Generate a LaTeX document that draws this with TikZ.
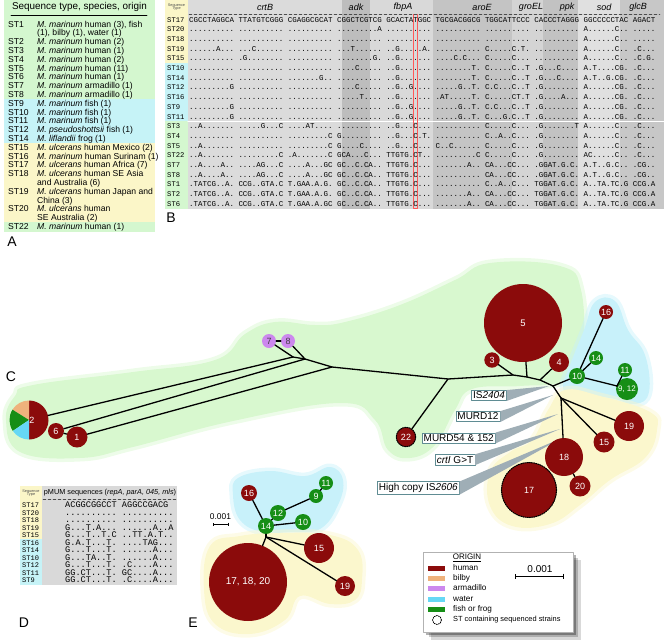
\documentclass[tikz,border=0pt]{standalone}
\usepackage{fontspec}
\setmainfont{Liberation Sans}
\setmonofont{Liberation Mono}
\usetikzlibrary{calc,arrows.meta}
\definecolor{human}{HTML}{8B0B0B}
\definecolor{bilby}{HTML}{EFB27C}
\definecolor{armadillo}{HTML}{CC88EE}
\definecolor{water}{HTML}{66D8F5}
\definecolor{fishfrog}{HTML}{168E16}
\definecolor{tabgreen}{HTML}{D4F7CF}
\definecolor{tabcyan}{HTML}{C6F3F7}
\definecolor{tabyellow}{HTML}{FBF6C8}
\definecolor{blobgreen}{HTML}{D8F8CF}
\definecolor{blobcyan}{HTML}{C8F1FA}
\definecolor{blobyellow}{HTML}{FBF7CD}
\definecolor{wedge}{HTML}{9FAEB6}
\definecolor{boxline}{HTML}{5F8C93}
\newcommand{\fsz}[1]{\fontsize{#1}{#1}\selectfont}

\begin{document}
\begin{tikzpicture}[x=1pt, y=-1pt, line join=round, line cap=round,
  txa/.style={anchor=base west, inner sep=0pt, font=\fsz{8.6}},
  stb/.style={anchor=base west, inner sep=0pt, font=\ttfamily\fsz{7.2}},
  seqb/.style={anchor=base west, inner sep=0pt, font=\ttfamily\fsz{7.47}},
  std/.style={anchor=base west, inner sep=0pt, font=\ttfamily\fsz{7}},
  seqd/.style={anchor=base west, inner sep=0pt, font=\ttfamily\fsz{8.6}},
  gene/.style={inner sep=0pt, font=\itshape\fsz{9}},
  panel/.style={inner sep=0pt, font=\fsz{14}},
  st/.style={circle, inner sep=0pt, text=white, font=\fsz{9}},
  hum/.style={st, fill=human},
  fsh/.style={st, fill=fishfrog},
  arm/.style={st, fill=armadillo, text=black!75},
  ring/.style={draw=black, line width=1.1pt, dash pattern=on 1.1pt off 1.1pt},
  edge/.style={line width=1.3pt},
  callout/.style={draw=boxline, fill=white, line width=0.6pt, inner sep=1.6pt, font=\fsz{10}},
  blob/.style={line width=7pt, draw opacity=0.45},
  leg/.style={anchor=west, inner sep=0pt, font=\fsz{8.2}}]
\useasboundingbox (0,0) rectangle (664,643);

\fill[tabgreen] (4,0) rectangle (155,99.1);
\fill[tabcyan] (4,99.1) rectangle (155,143.1);
\fill[tabyellow] (4,143.1) rectangle (155,222.3);
\fill[tabgreen] (4,222.3) rectangle (155,232);
\node[font=\fsz{9.9}, inner sep=0pt] (ahead) at (79.5,7) {Sequence type, species, origin};
\draw[line width=0.7pt] (11,15) -- (147,15);
\node[txa] (a1) at (8,27.0) {ST1};
\node[txa] (a1t) at (37,27.0) {\textit{M. marinum} human (3), fish};
\node[txa] (a1u) at (37,35.8) {(1), bilby (1), water (1)};
\node[txa] (a2) at (8,44.6) {ST2};
\node[txa] (a2t) at (37,44.6) {\textit{M. marinum} human (2)};
\node[txa] (a3) at (8,53.4) {ST3};
\node[txa] (a3t) at (37,53.4) {\textit{M. marinum} human (1)};
\node[txa] (a4) at (8,62.2) {ST4};
\node[txa] (a4t) at (37,62.2) {\textit{M. marinum} human (2)};
\node[txa] (a5) at (8,71.0) {ST5};
\node[txa] (a5t) at (37,71.0) {\textit{M. marinum} human (11)};
\node[txa] (a6) at (8,79.8) {ST6};
\node[txa] (a6t) at (37,79.8) {\textit{M. marinum} human (1)};
\node[txa] (a7) at (8,88.6) {ST7};
\node[txa] (a7t) at (37,88.6) {\textit{M. marinum} armadillo (1)};
\node[txa] (a8) at (8,97.4) {ST8};
\node[txa] (a8t) at (37,97.4) {\textit{M. marinum} armadillo (1)};
\node[txa] (a9) at (8,106.2) {ST9};
\node[txa] (a9t) at (37,106.2) {\textit{M. marinum} fish (1)};
\node[txa] (a10) at (8,115.0) {ST10};
\node[txa] (a10t) at (37,115.0) {\textit{M. marinum} fish (1)};
\node[txa] (a11) at (8,123.8) {ST11};
\node[txa] (a11t) at (37,123.8) {\textit{M. marinum} fish (1)};
\node[txa] (a12) at (8,132.6) {ST12};
\node[txa] (a12t) at (37,132.6) {\textit{M. pseudoshottsii} fish (1)};
\node[txa] (a14) at (8,141.4) {ST14};
\node[txa] (a14t) at (37,141.4) {\textit{M. liflandii} frog (1)};
\node[txa] (a15) at (8,150.2) {ST15};
\node[txa] (a15t) at (37,150.2) {\textit{M. ulcerans} human Mexico (2)};
\node[txa] (a16) at (8,159.0) {ST16};
\node[txa] (a16t) at (37,159.0) {\textit{M. marinum} human Surinam (1)};
\node[txa] (a17) at (8,167.8) {ST17};
\node[txa] (a17t) at (37,167.8) {\textit{M. ulcerans} human Africa (7)};
\node[txa] (a18) at (8,176.6) {ST18};
\node[txa] (a18t) at (37,176.6) {\textit{M. ulcerans} human SE Asia};
\node[txa] (a18u) at (37,185.4) {and Australia (6)};
\node[txa] (a19) at (8,194.2) {ST19};
\node[txa] (a19t) at (37,194.2) {\textit{M. ulcerans} human Japan and};
\node[txa] (a19u) at (37,203.0) {China (3)};
\node[txa] (a20) at (8,211.8) {ST20};
\node[txa] (a20t) at (37,211.8) {\textit{M. ulcerans} human};
\node[txa] (a20u) at (37,220.6) {SE Australia (2)};
\node[txa] (a22) at (8,229.4) {ST22};
\node[txa] (a22t) at (37,229.4) {\textit{M. marinum} human (1)};
\node[panel] (pa) at (12,242) {A};

\fill[tabyellow] (165,0) rectangle (188,63.2);
\fill[tabcyan] (165,63.2) rectangle (188,121.3);
\fill[tabgreen] (165,121.3) rectangle (188,208.6);
\fill[black!14] (188,0) rectangle (342,208.6);
\fill[black!26] (342,0) rectangle (370,208.6);
\fill[black!15] (370,0) rectangle (433,208.6);
\fill[black!23] (433,0) rectangle (512,208.6);
\fill[black!17] (512,0) rectangle (543,208.6);
\fill[black!24] (543,0) rectangle (578,208.6);
\fill[black!12] (578,0) rectangle (620,208.6);
\fill[black!22] (620,0) rectangle (664,208.6);
\draw[white, line width=1.2pt] (188,121.3) -- (664,121.3);
\draw[red!65, line width=0.4pt] (413,14) rectangle (417.5,208.6);
\draw[black!70, line width=0.4pt, densely dashed] (189,14.5) -- (660,14.5);
\node[font=\fsz{3.8}, align=center, inner sep=0pt, text=black!70] (bhead) at (176.5,7) {Sequence\\Type};
\node[gene] (gcrtb) at (265,7) {crtB};
\node[gene] (gadk) at (356,7) {adk};
\node[gene] (gfbpa) at (403,7) {fbpA};
\node[gene] (garoe) at (482,7) {aroE};
\node[gene] (ggroel) at (531,7) {groEL};
\node[gene] (gppk) at (567,7) {ppk};
\node[gene] (gsod) at (604,7) {sod};
\node[gene] (gglcb) at (638,7) {glcB};
\node[stb] (b17) at (167,22.0) {ST17};
\node[seqb] (s17) at (189,22.0) {CGCCTAGGCA TTATGTCGGG CGAGGCGCAT CGGCTCGTCG GCACTATGGC TGCGACGGCG TGGCATTCCC CACCCTAGGG GGCCCCCTAC AGACT};
\node[stb] (b20) at (167,31.7) {ST20};
\node[seqb] (s20) at (189,31.7) {.......... .......... .......... .........A .......... .......... .......... .......... A......C.. .....};
\node[stb] (b18) at (167,41.4) {ST18};
\node[seqb] (s18) at (189,41.4) {.......... .......... .......... .......... .......... .......... .......... .......... A......C.. .....};
\node[stb] (b19) at (167,51.1) {ST19};
\node[seqb] (s19) at (189,51.1) {......A... ...C...... .......... ...T...... ..G.....A. .......... C.....C.T. .......... A......C.. .C...};
\node[stb] (b15) at (167,60.8) {ST15};
\node[seqb] (s15) at (189,60.8) {.......... .G........ .......... ........G. ..G....... ....C.C... C.....C... .......... A......C.. .C.G.};
\node[stb] (b10) at (167,70.5) {ST10};
\node[seqb] (s10) at (189,70.5) {.......... .......... .......... ....C..... ..G....... ........T. C.....C..T .G...C.... A.T....CG. .C...};
\node[stb] (b14) at (167,80.2) {ST14};
\node[seqb] (s14) at (189,80.2) {.......... .......... .......G.. .......... ..G....... ........T. C.....C..T .G...C.... A.T..G.CG. .C...};
\node[stb] (b12) at (167,89.9) {ST12};
\node[seqb] (s12) at (189,89.9) {.........G .......... .......... ....C..... ..G..G.... .....G..T. C.C...C..T .G........ A......CG. .C...};
\node[stb] (b16) at (167,99.6) {ST16};
\node[seqb] (s16) at (189,99.6) {.......... .......... .......... .....T.... ..G....... .AT.....T. C.....CT.T .G....A... A......CG. .C...};
\node[stb] (b9) at (167,109.3) {ST9};
\node[seqb] (s9) at (189,109.3) {.........G .......... .......... .......... ..G..G.... .....G..T. C.C...C..T .G........ A......CG. .C...};
\node[stb] (b11) at (167,119.0) {ST11};
\node[seqb] (s11) at (189,119.0) {.........G .......... .......... .......... ..G..G.... .....G..T. C...G.C..T .G........ A......CG. .C...};
\node[stb] (b3) at (167,128.7) {ST3};
\node[seqb] (s3) at (189,128.7) {..A....... .....G...C ....AT.... .......... ..G...C... .......... C.....C... .G.......T A......C.. .C...};
\node[stb] (b4) at (167,138.4) {ST4};
\node[seqb] (s4) at (189,138.4) {.......... .......... .........C G......... ..G...C.T. .......... C..A..C... .G........ A......C.. .C...};
\node[stb] (b5) at (167,148.1) {ST5};
\node[seqb] (s5) at (189,148.1) {..A....... .......... .........C G....C.... ..G...C... C..C...... C.....C... .G........ A......C.. .C...};
\node[stb] (b22) at (167,157.8) {ST22};
\node[seqb] (s22) at (189,157.8) {..A....... .........C .A.......C GCA...C... TTGTG.CT.. .........C C.....C... .G........ AC.....C.. .C...};
\node[stb] (b7) at (167,167.5) {ST7};
\node[seqb] (s7) at (189,167.5) {..A....A.. ....AG...C ....A...GC GC..C.CA.. TTGTG.C... .......A.. CA...CC... .GGAT.G.C. A.T..G.C.. .CG..};
\node[stb] (b8) at (167,177.2) {ST8};
\node[seqb] (s8) at (189,177.2) {..A....A.. ....AG...C ....A...GC GC..C.CA.. TTGTG.C... .......... CA...CC... .GGAT.G.C. A.T..G.C.. .CG..};
\node[stb] (b1) at (167,186.9) {ST1};
\node[seqb] (s1) at (189,186.9) {.TATCG..A. CCG..GTA.C T.GAA.A.G. GC..C.CA.. TTGTG.C... .......... C..A..C... TGGAT.G.C. A..TA.TC.G CCG.A};
\node[stb] (b2) at (167,196.6) {ST2};
\node[seqb] (s2) at (189,196.6) {.TATCG..A. CCG..GTA.C T.GAA.A.G. GC..C.CA.. TTGTG.C... .......A.. CA...CC... TGGAT.G.C. A..TA.TC.G CCG.A};
\node[stb] (b6) at (167,206.3) {ST6};
\node[seqb] (s6) at (189,206.3) {.TATCG..A. CCG..GTA.C T.GAA.A.GC GC..C.CA.. TTGTG.C... .......A.. CA...CC... TGGAT.G.C. A..TA.TC.G CCG.A};
\node[panel] (pb) at (171,218) {B};

\path[fill=blobgreen, draw=blobgreen, blob] plot[smooth cycle, tension=0.7] coordinates {(6,420) (15,396) (33,385) (133,372) (215,360) (245,334) (275,322) (315,325) (345,322) (400,305) (455,280) (490,263) (560,266) (581,290) (582,355) (565,381) (520,386) (472,389) (455,410) (435,445) (410,458) (388,450) (375,420) (340,403) (233,421) (133,447) (80,458) (20,452)};
\path[fill=blobcyan, draw=blobcyan, blob] plot[smooth cycle, tension=0.7] coordinates {(584,330) (595,302) (615,301) (628,330) (645,355) (649,392) (635,404) (610,398) (575,395) (563,388) (570,365)};
\path[fill=blobyellow, draw=blobyellow, blob] plot[smooth cycle, tension=0.7] coordinates {(565,390) (600,396) (650,412) (657,430) (645,458) (610,480) (580,505) (550,524) (512,526) (490,506) (490,472) (510,452) (532,440) (548,410)};
\node[panel] (pc) at (11,377) {C};

\node[callout] (cis4) at (489,395.5) {IS\textit{2404}};
\node[callout] (cm12) at (478,416.5) {MURD12};
\node[callout] (cm54) at (458.7,438) {MURD54 \& 152};
\node[callout] (ccrt) at (455,459.7) {\textit{crtI} G>T};
\node[callout] (chi) at (418.3,488) {High copy IS\textit{2606}};
\coordinate (tis4) at (549,386);
\coordinate (tm12) at (553,395);
\coordinate (tm54) at (558,414);
\coordinate (tcrt) at (560,429);
\coordinate (thi) at (562,438);
\fill[wedge] (cis4.north east) -- (tis4) -- (cis4.south east) -- cycle;
\fill[wedge] (cm12.north east) -- (tm12) -- (cm12.south east) -- cycle;
\fill[wedge] (cm54.north east) -- (tm54) -- (cm54.south east) -- cycle;
\fill[wedge] (ccrt.north east) -- (tcrt) -- (ccrt.south east) -- cycle;
\fill[wedge] (chi.north east) -- (thi) -- (chi.south east) -- cycle;

\fill[human] (29,420) -- ++(90:19.5pt) arc[start angle=90, end angle=-90, radius=19.5pt] -- cycle;
\fill[bilby] (29,420) -- ++(90:19.5pt) arc[start angle=90, end angle=148, radius=19.5pt] -- cycle;
\fill[fishfrog] (29,420) -- ++(148:19.5pt) arc[start angle=148, end angle=214, radius=19.5pt] -- cycle;
\fill[water] (29,420) -- ++(214:19.5pt) arc[start angle=214, end angle=270, radius=19.5pt] -- cycle;
\node[st, minimum size=39pt] (n2) at (29,420) {\hspace{6pt}2};
\node[hum, minimum size=16pt] (n6) at (56,431) {6};
\node[hum, minimum size=21pt] (n1) at (77,437) {1};
\node[arm, minimum size=14pt] (n7) at (269,341) {7};
\node[arm, minimum size=14pt] (n8) at (288,341) {8};
\node[hum, ring, minimum size=19.4pt] (n22) at (406,437) {22};
\node[hum, minimum size=15.4pt] (n3) at (492,360) {3};
\node[hum, minimum size=78pt, font=\fsz{9.5}] (n5) at (523,323) {5};
\node[hum, minimum size=20pt] (n4) at (559,362) {4};
\node[fsh, minimum size=16pt] (n10) at (577,376) {10};
\node[hum, minimum size=14pt] (n16) at (606,312) {16};
\node[fsh, minimum size=14pt] (n14) at (596,358) {14};
\node[fsh, minimum size=14pt] (n11) at (625,370) {11};
\node[fsh, minimum size=22pt, font=\fsz{8}] (n912) at (627,389) {9, 12};
\node[hum, minimum size=38pt] (n18) at (564,457) {18};
\node[hum, minimum size=21pt] (n15) at (604,442) {15};
\node[hum, minimum size=30pt] (n19) at (629,426) {19};
\node[hum, minimum size=21pt] (n20) at (580,486) {20};
\node[hum, ring, minimum size=55pt] (n17) at (529,490) {17};
\coordinate (j1) at (293,357);
\coordinate (j2) at (305,359);
\coordinate (j3) at (332,367);
\coordinate (j4) at (448,379);
\coordinate (j5) at (513,375);
\coordinate (j6) at (527,377);
\coordinate (j7) at (540,380);
\coordinate (j8) at (553,386);
\coordinate (j9) at (617,386);
\coordinate (j10) at (561,398);
\draw[edge] (n2) -- (j1);
\draw[edge] (n6) -- (j2);
\draw[edge] (n1) -- (j3);
\draw[edge] (n6) -- (n1);
\draw[edge] (n7) -- (n8);
\draw[edge] (n7) -- (j1);
\draw[edge] (n8) -- (j2);
\draw[edge] (j1) -- (j2) -- (j3) -- (j4) -- (j5) -- (j6) -- (j7) -- (j8);
\draw[edge] (j4) -- (n22);
\draw[edge] (j5) -- (n3);
\draw[edge] (j6) -- (n5);
\draw[edge] (j7) -- (n4);
\draw[edge] (j8) -- (n10);
\draw[edge] (n10) -- (n14);
\draw[edge] (n10) -- (n16);
\draw[edge] (n10) -- (j9);
\draw[edge] (j9) -- (n11);
\draw[edge] (j9) -- (n912);
\draw[edge] (j8) -- (j10);
\draw[edge] (j10) -- (n18);
\draw[edge] (j10) -- (n15);
\draw[edge] (j10) -- (n19);
\draw[edge] (n18) -- (n20);

\fill[tabyellow] (20,486) rectangle (42,538.7);
\fill[tabcyan] (20,538.7) rectangle (42,585);
\fill[black!15] (42,486) rectangle (177,585);
\draw[black!70, line width=0.4pt, densely dashed] (43,499.5) -- (176,499.5);
\node[font=\fsz{3.8}, align=center, inner sep=0pt, text=black!70] (dhead) at (31,493) {Sequence\\Type};
\node[font=\fsz{7.3}, inner sep=0pt] (dtitle) at (110,493) {pMUM sequences (\textit{repA, parA, 045, mls})};
\node[std] (d17) at (22,507.6) {ST17};
\node[seqd] (q17) at (65,507.6) {ACGGCGGCCT AGGCCGACG};
\node[std] (d20) at (22,515.1) {ST20};
\node[seqd] (q20) at (65,515.1) {.......... ..........};
\node[std] (d18) at (22,522.6) {ST18};
\node[seqd] (q18) at (65,522.6) {.......... ..........};
\node[std] (d19) at (22,530.1) {ST19};
\node[seqd] (q19) at (65,530.1) {G...T.A... ......A..A};
\node[std] (d15) at (22,537.6) {ST15};
\node[seqd] (q15) at (65,537.6) {G...T..T.C ..TT.A.T..};
\node[std] (d16) at (22,545.1) {ST16};
\node[seqd] (q16) at (65,545.1) {G.A.T...T. ....TAG...};
\node[std] (d14) at (22,552.6) {ST14};
\node[seqd] (q14) at (65,552.6) {G...T...T. ......A...};
\node[std] (d10) at (22,560.1) {ST10};
\node[seqd] (q10) at (65,560.1) {G...TA..T. ......A...};
\node[std] (d12) at (22,567.6) {ST12};
\node[seqd] (q12) at (65,567.6) {G...T...T. .C....A...};
\node[std] (d11) at (22,575.1) {ST11};
\node[seqd] (q11) at (65,575.1) {GG.CT...T. GC....A...};
\node[std] (d9) at (22,582.6) {ST9};
\node[seqd] (q9) at (65,582.6) {GG.CT...T. .C....A...};
\node[panel] (pd) at (24,623) {D};

\path[fill=blobcyan, draw=blobcyan, blob] plot[smooth cycle, tension=0.7] coordinates {(238,478) (270,471) (305,476) (330,467) (343,480) (338,505) (320,529) (290,532) (262,532) (240,520) (233,495)};
\path[fill=blobyellow, draw=blobyellow, blob] plot[smooth cycle, tension=0.7] coordinates {(210,546) (240,536) (280,533) (330,535) (358,550) (362,580) (355,600) (330,604) (300,596) (285,620) (250,634) (215,624) (204,590)};
\node[hum, minimum size=16pt] (e16) at (249,493) {16};
\node[fsh, minimum size=16pt] (e14) at (266,526) {14};
\node[fsh, minimum size=16pt] (e12) at (278,513) {12};
\node[fsh, minimum size=16pt] (e10) at (303,522) {10};
\node[fsh, minimum size=14pt] (e9) at (316,496) {9};
\node[fsh, minimum size=14pt] (e11) at (326,483) {11};
\node[hum, minimum size=30pt] (e15) at (319,548) {15};
\node[hum, minimum size=20pt] (e19) at (345,586) {19};
\node[hum, minimum size=78pt, font=\fsz{10}] (ebig) at (248,582) {17, 18, 20};
\coordinate (ej) at (266,537);
\draw[edge] (e16) -- (e14);
\draw[edge] (e14) -- (e12);
\draw[edge] (e12) -- (e9);
\draw[edge] (e9) -- (e11);
\draw[edge] (e14) -- (e10);
\draw[edge] (e14) -- (ej);
\draw[edge] (ej) -- (e15);
\draw[edge] (ej) -- (e19);
\draw[edge] (ej) -- (ebig);
\coordinate (esl) at (213,524);
\coordinate (esr) at (228,524);
\draw[line width=0.5pt, {Bar[width=3pt]}-{Bar[width=3pt]}] (esl) -- (esr);
\node[font=\fsz{8.4}, inner sep=0pt] (escale) at (220.5,517) {0.001};
\node[panel] (pe) at (193,623) {E};

\fill[black, opacity=0.15] (431,560) rectangle (581,640);
\fill[black, opacity=0.2] (429,558) rectangle (578,637);
\fill[black, opacity=0.3] (426,555) rectangle (576,635);
\draw[fill=white, draw=black!30, line width=0.4pt] (423,552) rectangle (573,632);
\node[font=\fsz{8}, inner sep=0pt] (lorig) at (467,557.5) {\underline{ORIGIN}};
\fill[human] (428,565.5) rectangle (445,570.5);
\node[leg] (lhum) at (453,568) {human};
\fill[bilby] (428,575.5) rectangle (445,580.5);
\node[leg] (lbil) at (453,578) {bilby};
\fill[armadillo] (428,585.5) rectangle (445,590.5);
\node[leg] (larm) at (453,588) {armadillo};
\fill[water] (428,596.5) rectangle (445,601.5);
\node[leg] (lwat) at (453,599) {water};
\fill[fishfrog] (428,606.5) rectangle (445,611.5);
\node[leg] (lfsh) at (453,609) {fish or frog};
\node[circle, ring, line width=0.8pt, minimum size=9pt, inner sep=0pt] (lring) at (437,620) {};
\node[leg, font=\fsz{7.4}] (lsts) at (453,620) {ST containing sequenced strains};
\coordinate (sbl) at (515,576);
\coordinate (sbr) at (564,576);
\draw[line width=0.6pt, {Bar[width=5pt]}-{Bar[width=5pt]}] (sbl) -- (sbr);
\node[font=\fsz{10}, inner sep=0pt] (lscale) at (540,569) {0.001};
\end{tikzpicture}
\end{document}
